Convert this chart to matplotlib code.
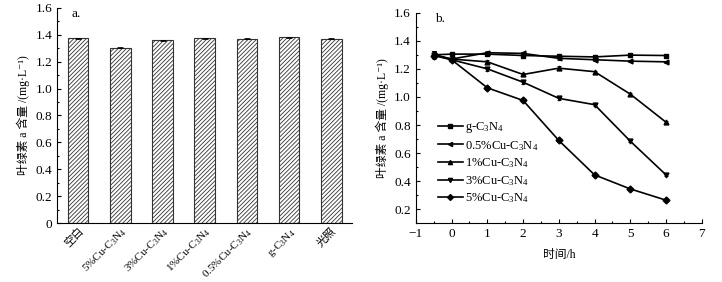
import numpy as np
import matplotlib
matplotlib.use('Agg')
import matplotlib.pyplot as plt
from matplotlib.ticker import MultipleLocator

plt.rcParams['font.family'] = ['Liberation Serif', 'Noto Sans CJK SC', 'DejaVu Serif']
plt.rcParams['mathtext.fontset'] = 'custom'
plt.rcParams['mathtext.rm'] = 'Liberation Serif'
plt.rcParams['mathtext.it'] = 'Liberation Serif'
plt.rcParams['font.size'] = 9.5
plt.rcParams['hatch.linewidth'] = 0.6

# panel a
bar_labels = ['空白', '5%Cu-C$_3$N$_4$', '3%Cu-C$_3$N$_4$', '1%Cu-C$_3$N$_4$',
              '0.5%Cu-C$_3$N$_4$', 'g-C$_3$N$_4$', '光照']
bar_values = [1.375, 1.305, 1.360, 1.375, 1.372, 1.382, 1.372]
bar_err = [0.003, 0.004, 0.003, 0.003, 0.003, 0.003, 0.003]

# panel b
time_h = [-0.5, 0, 1, 2, 3, 4, 5, 6]
series_names = ['g-C$_3$N$_4$', '0.5%Cu-C$_3$N$_4$', '1%Cu-C$_3$N$_4$',
                '3%Cu-C$_3$N$_4$', '5%Cu-C$_3$N$_4$']
g_c3n4 = [1.300, 1.305, 1.305, 1.295, 1.290, 1.285, 1.298, 1.295]
cu05 = [1.300, 1.270, 1.315, 1.310, 1.275, 1.265, 1.255, 1.250]
cu1 = [1.300, 1.270, 1.250, 1.160, 1.205, 1.180, 1.020, 0.820]
cu3 = [1.300, 1.265, 1.200, 1.105, 0.990, 0.945, 0.685, 0.445]
cu5 = [1.295, 1.265, 1.065, 0.975, 0.690, 0.445, 0.345, 0.265]
err_b = [0.025, 0.01, 0.015, 0.01, 0.012, 0.008, 0.008, 0.008]
markers = ['s', '<', '^', 'v', 'D']

fig = plt.figure(figsize=(7.22, 2.82), dpi=100)
ax1 = fig.add_axes([0.079, 0.209, 0.409, 0.763])
ax2 = fig.add_axes([0.576, 0.208, 0.396, 0.747])

x = np.arange(len(bar_values))
ax1.bar(x, bar_values, width=0.49, color='white', edgecolor='#333333',
        hatch='////////', linewidth=0.8, yerr=bar_err, capsize=2,
        error_kw=dict(elinewidth=0.6, capthick=0.6))
ax1.set_xlim(-0.5, 6.5)
ax1.set_ylim(0, 1.6)
ax1.yaxis.set_major_locator(MultipleLocator(0.2))
ax1.yaxis.set_minor_locator(MultipleLocator(0.1))
ax1.set_yticklabels(['0' if abs(v) < 1e-9 else f'{v:.1f}' for v in ax1.get_yticks()])
ax1.set_xticks(x)
ax1.set_xticklabels(bar_labels, rotation=45, ha='right', rotation_mode='anchor',
                    fontsize=8)
ax1.tick_params(axis='x', length=0, pad=2)
ax1.tick_params(axis='y', direction='in', length=3, width=0.8)
ax1.tick_params(axis='y', which='minor', direction='in', length=1.5, width=0.8)
ax1.set_ylabel('叶绿素 a 含量 /(mg·L⁻¹)', labelpad=4, fontsize=8.5)
ax1.text(0.05, 1.0, 'a.', transform=ax1.transAxes, va='top', ha='left')

series = [g_c3n4, cu05, cu1, cu3, cu5]
for name, vals, mk in zip(series_names, series, markers):
    ax2.errorbar(time_h, vals, yerr=err_b, color='black', marker=mk,
                 markersize=3.5, linewidth=1.2, elinewidth=0.6, capsize=1.5,
                 capthick=0.6)
    ax2.plot([], [], color='black', marker=mk, markersize=3, linewidth=1.2,
             label=name)
ax2.set_xlim(-1, 7)
ax2.set_ylim(0.1, 1.6)
ax2.xaxis.set_major_locator(MultipleLocator(1))
ax2.xaxis.set_minor_locator(MultipleLocator(0.5))
ax2.yaxis.set_major_locator(MultipleLocator(0.2))
ax2.yaxis.set_minor_locator(MultipleLocator(0.1))
ax2.set_yticks([0.2, 0.4, 0.6, 0.8, 1.0, 1.2, 1.4, 1.6])
ax2.set_xticklabels(['−1' if v < 0 else f'{int(v)}' for v in ax2.get_xticks()])
ax2.tick_params(direction='in', length=3, width=0.8)
ax2.tick_params(which='minor', direction='in', length=1.5, width=0.8)
ax2.set_xlabel('时间/h', labelpad=6, fontsize=8.5)
ax2.set_ylabel('叶绿素 a 含量 /(mg·L⁻¹)', labelpad=4, fontsize=8.5)
ax2.text(0.066, 1.0, 'b.', transform=ax2.transAxes, va='top', ha='left')
ax2.legend(loc='upper left', bbox_to_anchor=(0.077, 0.49), frameon=False,
           borderpad=0, borderaxespad=0, handlelength=2.0, labelspacing=0.3,
           handletextpad=0.15, fontsize=9)

for ax in (ax1, ax2):
    ax.spines['top'].set_visible(False)
    ax.spines['right'].set_visible(False)
    ax.spines['left'].set_linewidth(0.8)
    ax.spines['bottom'].set_linewidth(0.8)

fig.savefig('out.png', dpi=100)
